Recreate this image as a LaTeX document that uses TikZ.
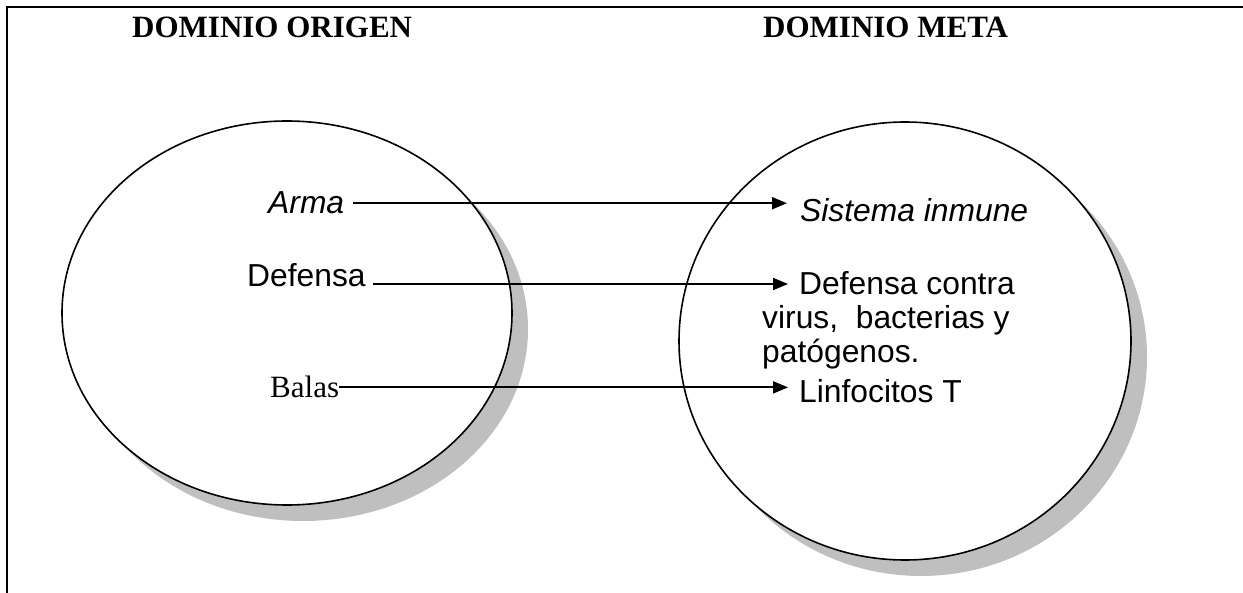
\documentclass[tikz,border=0pt]{standalone}
\usepackage{fontspec}
\setmainfont{Liberation Serif}
\setsansfont{Liberation Sans}
\usetikzlibrary{arrows.meta}
\usetikzlibrary{calc}
\usepackage{xcolor}

\begin{document}
\begin{tikzpicture}[>={Triangle[length=15pt, width=12pt]}, x=1pt, y=-1pt,
    every node/.style={inner sep=0pt, anchor=base west, font=\fontsize{31}{34}\selectfont},
    sans/.style={font=\fontsize{31.8}{34}\selectfont\sffamily},
    dominio/.style={fill=white, line width=1.6pt},
    sombra/.style={fill=black!25},
    flecha/.style={->, line width=2pt}]
      \useasboundingbox (0,0) rectangle (1243,593);

      % frame
      \draw [line width=2pt] (1243,7) -- (7,7) -- (7,593);

      % states
      \coordinate (origen) at (287, 313);
      \coordinate (meta) at (905, 341);
      \coordinate (shadow) at (16, 16);

      % domains with their shadows
      \fill [sombra] ($(origen) + (shadow)$) ellipse [x radius=225, y radius=192];
      \draw [dominio] (origen) ellipse [x radius=225, y radius=192];
      \fill [sombra] ($(meta) + (shadow)$) ellipse [x radius=226, y radius=219];
      \draw [dominio] (meta) ellipse [x radius=226, y radius=219];

      % titles
      \node [font=\fontsize{31}{34}\selectfont\bfseries, name=tit1] at (132, 38) {DOMINIO ORIGEN};
      \node [font=\fontsize{31}{34}\selectfont\bfseries, name=tit2] at (763, 38) {DOMINIO META};

      % source domain
      \node [sans, name=arma] at (268, 214) {\itshape Arma};
      \node [sans, name=defensa] at (247, 287) {Defensa};
      \node [name=balas] at (270, 398) {Balas};

      % target domain
      \node [sans, name=sistema] at (800, 222) {\itshape Sistema inmune};
      \node [sans, name=contra] at (799, 295) {Defensa contra};
      \node [sans, name=virus] at (762, 329) {virus,\ \ bacterias y};
      \node [sans, name=patogenos] at (762, 363) {patógenos.};
      \node [sans, name=linfo] at (799, 403) {Linfocitos T};

      % mappings
      \draw [flecha] ($(arma.east) + (9, 0)$) -- ($(arma.east -| sistema.west) + (-13, 0)$);
      \draw [flecha] ($(defensa.base east) + (7, -3)$) -- ($(defensa.base east -| contra.west) + (-11, -3)$);
      \draw [flecha] (balas.east) -- ($(balas.east -| linfo.west) + (-11, 0)$);
\end{tikzpicture}
\end{document}
